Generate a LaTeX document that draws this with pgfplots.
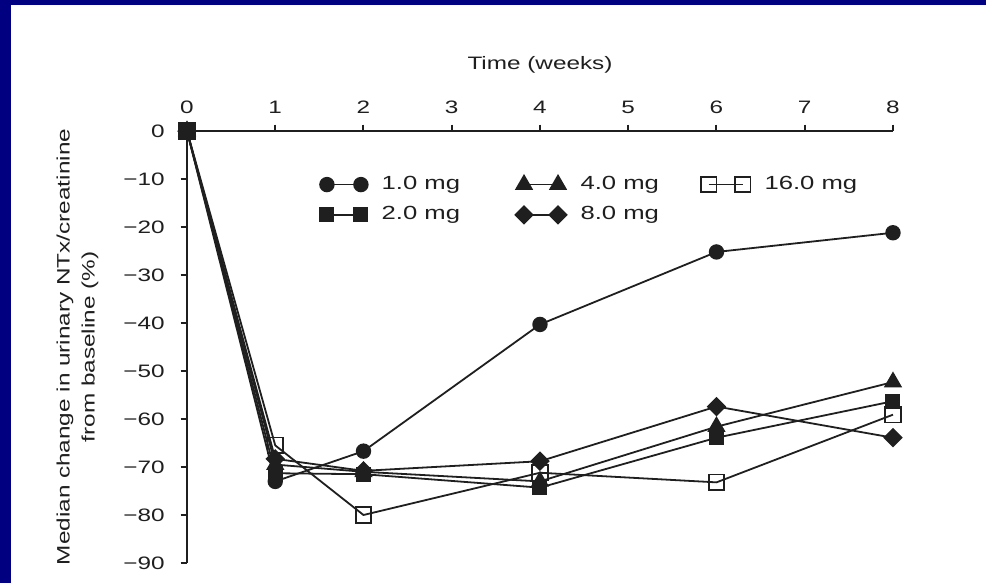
\documentclass[border=0pt]{standalone}
\usepackage{fontspec}
\setmainfont{Liberation Sans}[FakeStretch=1.35]
\usepackage{pgfplots}
\pgfplotsset{compat=1.18}
\definecolor{framenavy}{RGB}{0,0,128}
\definecolor{ink}{gray}{0.12}

\begin{document}
\begin{tikzpicture}[x=1pt,y=1pt]
% slide frame
\fill[framenavy] (0,0) rectangle (493,291.5);
\fill[white] (5.5,0) rectangle (493,289);
\path[use as bounding box] (0,0) rectangle (493,291.5);
\begin{axis}[
  at={(93.5pt,10pt)}, anchor=south west,
  scale only axis, width=353pt, height=216pt,
  xmin=0, xmax=8, ymin=-90, ymax=0,
  clip=false,
  axis x line*=top, axis y line*=left,
  axis line style={line width=1.2pt, ink},
  tick align=outside,
  major tick length=3.2pt,
  every tick/.style={line width=1pt, ink},
  xtick={0,1,2,3,4,5,6,7,8},
  xticklabels={0,1,2,3,4,5,6,7,8},
  ytick={-90,-80,-70,-60,-50,-40,-30,-20,-10,0},
  yticklabels={−90,−80,−70,−60,−50,−40,−30,−20,−10,0},
  ticklabel style={font=\fontsize{9}{10}\selectfont, text=ink},
  xticklabel style={yshift=2pt},
  yticklabel style={xshift=-4.5pt},
  xlabel={Time (weeks)},
  xlabel style={at={(axis description cs:0.5,1)}, anchor=center, yshift=33pt,
    font=\fontsize{9}{10}\selectfont, text=ink},
  ylabel={Median change in urinary NTx/creatinine\\from baseline (\%)},
  ylabel style={at={(axis description cs:-0.155,0.5)}, anchor=center, align=center,
    font=\fontsize{9}{12.5}\selectfont, text=ink},
  every axis plot/.append style={line width=0.9pt, ink},
  legend columns=3,
  legend cell align=left,
  legend image code/.code={\draw[#1] plot coordinates {(0pt,0pt) (17pt,0pt)};},
  legend style={at={(axis description cs:0.188,0.905)}, anchor=north west,
    draw=none, fill=none, inner sep=0pt,
    font=\fontsize{9.5}{11}\selectfont, text=ink,
    row sep=3pt,
    /tikz/every odd column/.append style={column sep=5pt},
    /tikz/column 2/.style={column sep=25.7pt},
    /tikz/column 4/.style={column sep=19pt}},
]
% 1.0 mg
\addplot[mark=*, mark size=3.4pt, mark options={fill=ink}] coordinates {
  (0,0) (1,-73) (2,-66.7) (4,-40.3) (6,-25.2) (8,-21.2)};
\addlegendentry{1.0 mg}
% 4.0 mg
\addplot[mark=triangle*, mark size=4.4pt, mark options={fill=ink}] coordinates {
  (0,0) (1,-69.5) (2,-71) (4,-73) (6,-61.6) (8,-52.3)};
\addlegendentry{4.0 mg}
% 16.0 mg
\addplot[mark=square, mark size=3.9pt, mark options={fill=white}] coordinates {
  (0,0) (1,-65.5) (2,-80) (4,-71.2) (6,-73.2) (8,-59.1)};
\addlegendentry{16.0 mg}
% 2.0 mg
\addplot[mark=square*, mark size=3.3pt, mark options={fill=ink}] coordinates {
  (0,0) (1,-71.3) (2,-71.5) (4,-74.3) (6,-63.9) (8,-56.3)};
\addlegendentry{2.0 mg}
% 8.0 mg
\addplot[mark=square*, mark size=3pt, mark options={fill=ink, rotate=45}] coordinates {
  (0,0) (1,-68.3) (2,-70.8) (4,-68.8) (6,-57.4) (8,-63.9)};
\addlegendentry{8.0 mg}
\end{axis}
\end{tikzpicture}
\end{document}
